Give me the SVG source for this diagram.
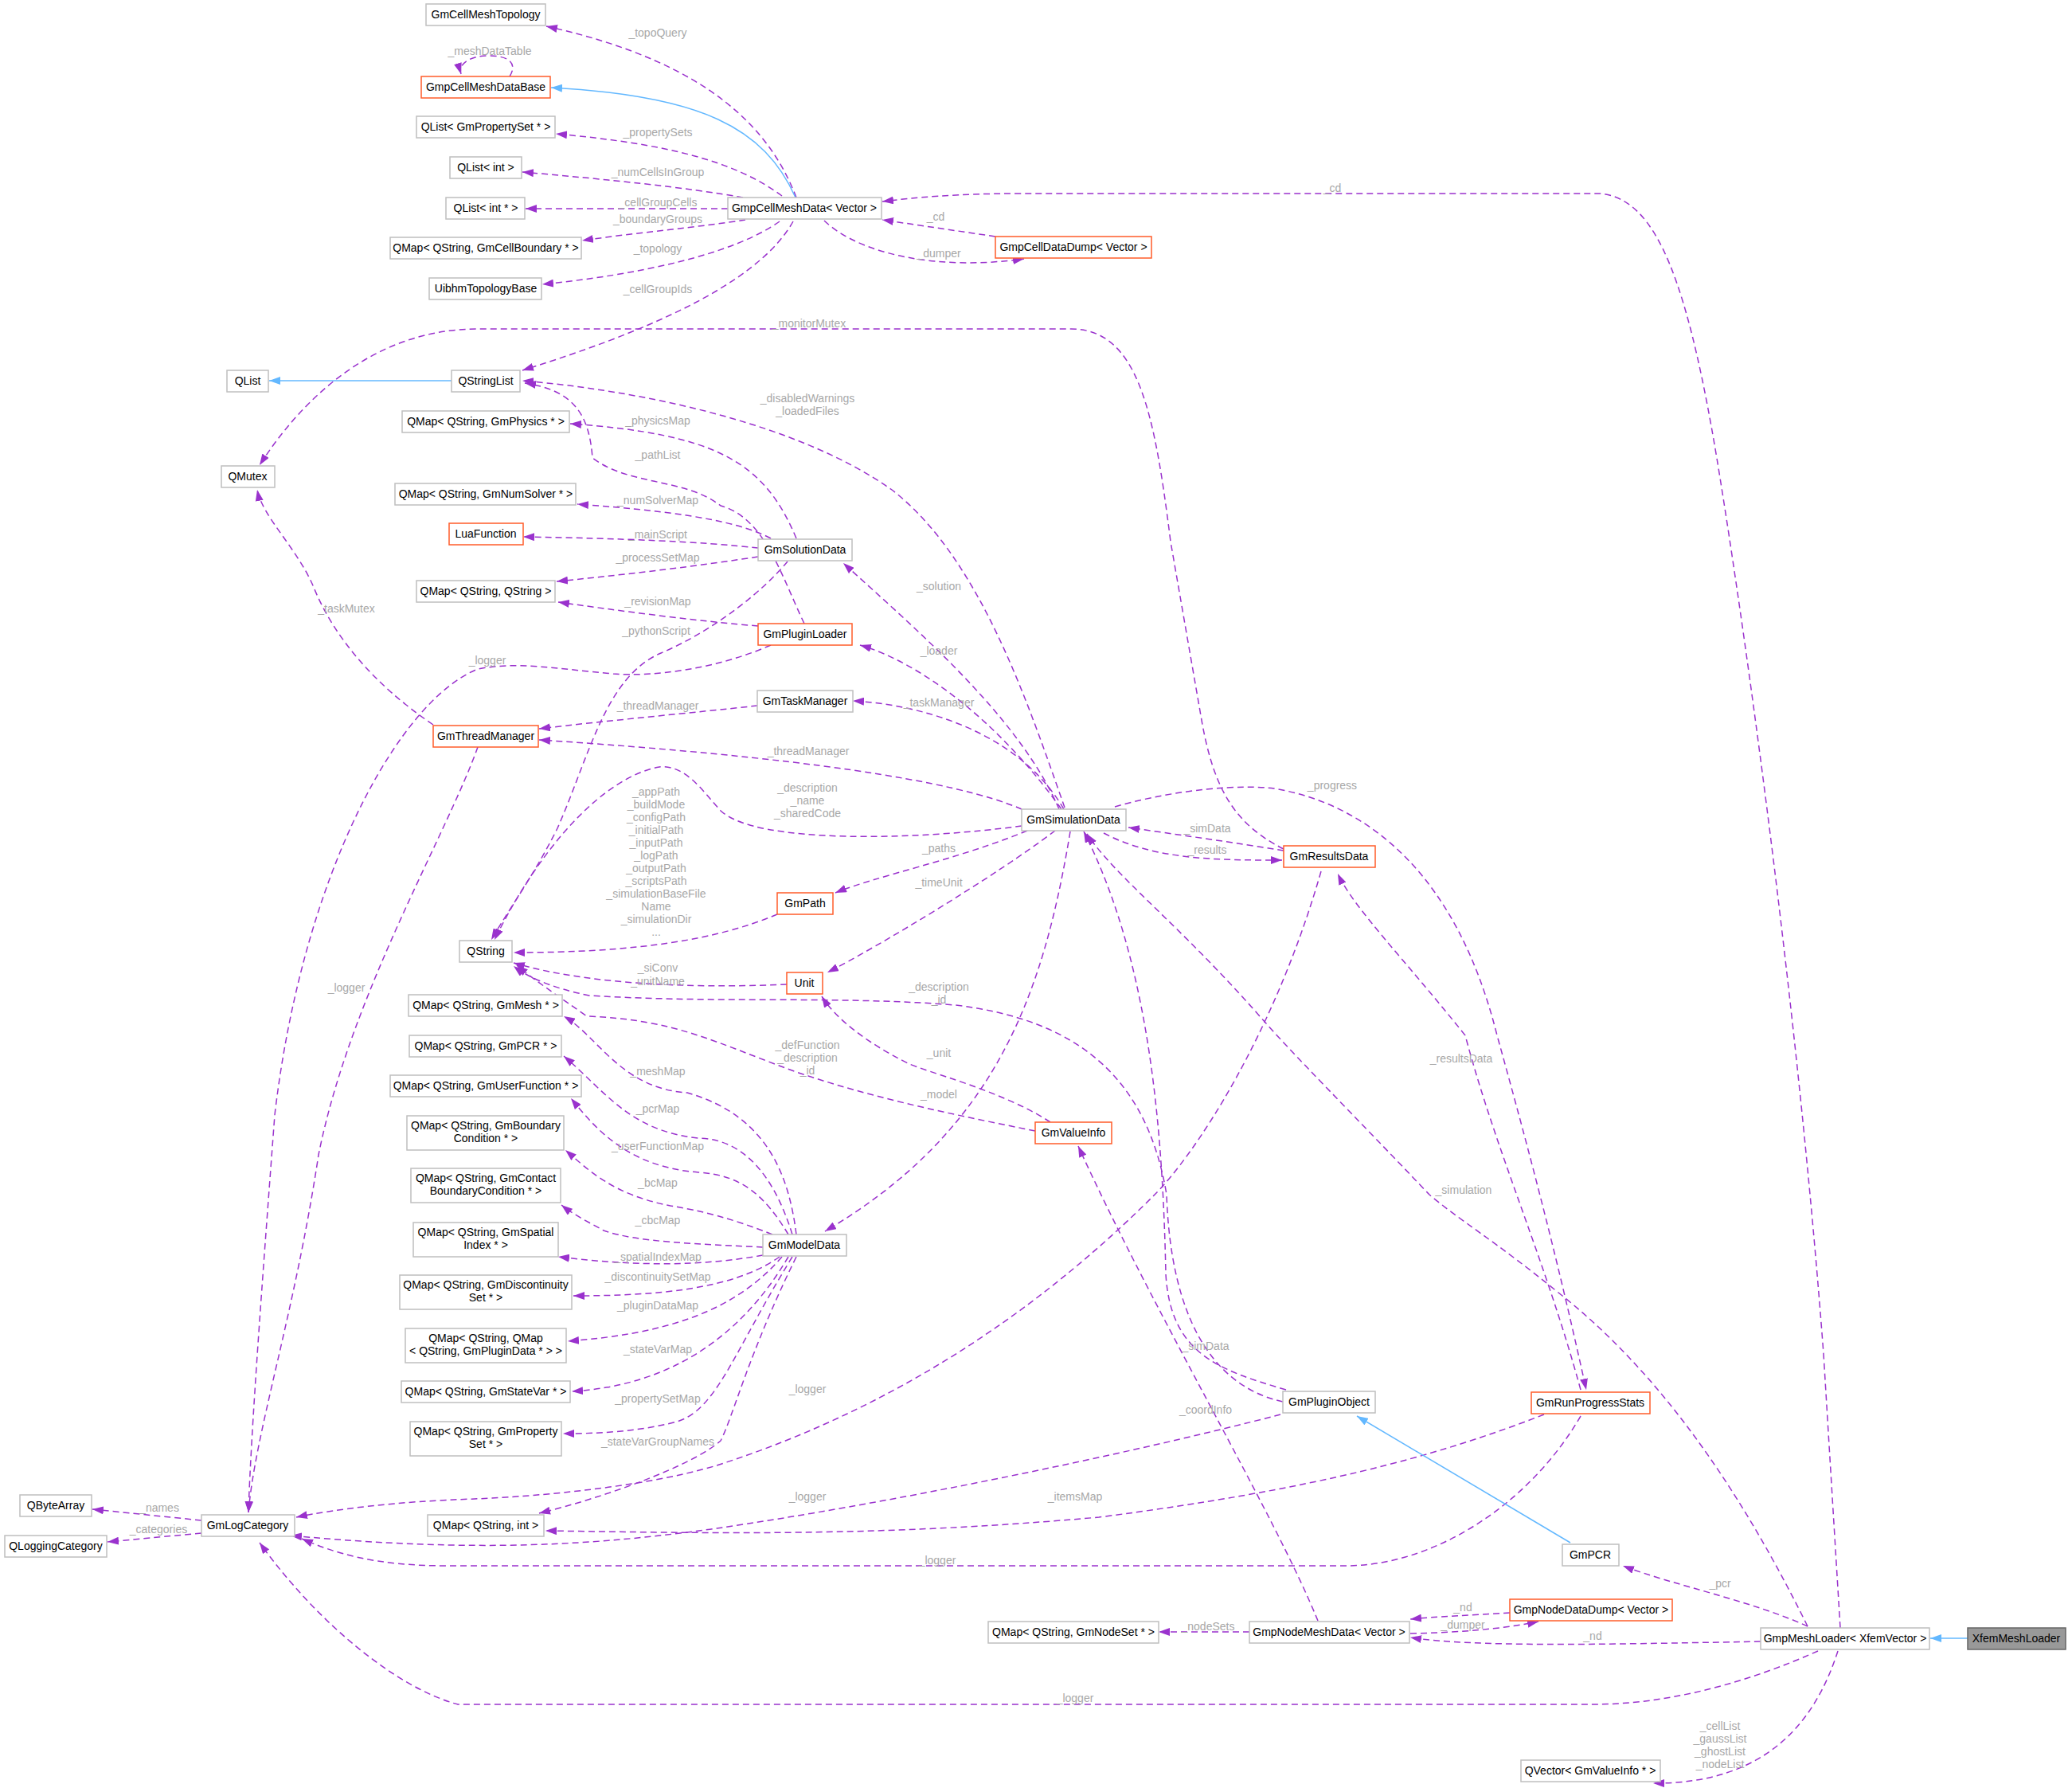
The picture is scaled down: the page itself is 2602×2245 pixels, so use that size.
<svg xmlns="http://www.w3.org/2000/svg" width="2602" height="2245" viewBox="0 0 2602 2245">
<style>
.n rect{fill:#fff;stroke:#bfbfbf;stroke-width:1.5}
.n.r rect{stroke:#ff5c2a}
.n.x rect{fill:#999;stroke:#666}
.n text,.l{font-family:"Liberation Sans",Arial,sans-serif;font-size:14px}
.n text{fill:#000;text-anchor:middle}
.l{fill:#a8a8a8;text-anchor:middle}
.e path{fill:none;stroke:#9a32cd;stroke-width:1.5;stroke-dasharray:8,5;marker-end:url(#a)}
.e path.i{stroke:#63b8ff;stroke-dasharray:none;marker-end:url(#b)}
</style>
<defs>
<marker id="a" viewBox="0 0 14 10" refX="14" refY="5" markerWidth="14" markerHeight="10" markerUnits="userSpaceOnUse" orient="auto"><path d="M0,0L14,5L0,10z" fill="#9a32cd"/></marker>
<marker id="b" viewBox="0 0 14 10" refX="14" refY="5" markerWidth="14" markerHeight="10" markerUnits="userSpaceOnUse" orient="auto"><path d="M0,0L14,5L0,10z" fill="#63b8ff"/></marker>
</defs>
<rect width="2602" height="2245" fill="#fff"/>
<g class="e">
<path d="M1000,248 C970,170 900,80 686,33"/>
<path class="i" d="M999,248 C960,160 880,120 692,110"/>
<path d="M982,246 C920,200 830,180 698,168"/>
<path d="M933,248 C860,235 760,225 656,216"/>
<path d="M914,262 L660,262"/>
<path d="M936,276 C880,285 800,292 731,302"/>
<path d="M979,278 C920,320 800,345 681,357"/>
<path d="M996,278 C950,360 800,420 656,465"/>
<path d="M1035,277 C1080,320 1180,340 1286,325"/>
<path d="M1250,297 L1108,276"/>
<path d="M2311,2044 L2290,1700 C2260,1300 2200,850 2160,600 C2120,350 2080,250 2010,243 L1280,243 C1200,243 1150,248 1108,253"/>
<path class="i" d="M567,478 L338,478"/>
<path d="M1612,1066 C1550,1035 1525,990 1510,910 L1470,680 C1450,520 1430,413 1345,413 L600,413 C470,413 380,500 326,584"/>
<path d="M1337,1014 C1290,880 1230,700 1120,615 C1000,530 800,490 656,478"/>
<path d="M1010,783 C980,720 960,650 905,635 C860,600 790,610 744,575 C740,520 720,490 659,481"/>
<path d="M1000,676 C960,580 900,545 716,532"/>
<path d="M968,676 C920,650 820,640 725,633"/>
<path d="M952,688 C880,680 780,676 657,674"/>
<path d="M952,699 C880,710 800,720 699,730"/>
<path d="M989,705 C960,740 900,790 830,820 C760,850 740,950 700,1040 C670,1100 640,1140 617,1180"/>
<path d="M1330,1016 C1280,900 1150,790 1059,707"/>
<path d="M952,786 C880,780 800,770 701,756"/>
<path d="M968,810 C900,840 820,850 770,846 C700,840 650,830 600,840 C500,880 380,1100 345,1400 C330,1600 315,1800 312,1899"/>
<path d="M1333,1016 C1250,900 1150,830 1080,810"/>
<path d="M951,886 C870,895 760,905 677,915"/>
<path d="M1336,1016 C1280,920 1160,885 1071,880"/>
<path d="M1283,1016 C1200,980 1000,950 677,929"/>
<path d="M544,910 C470,860 420,800 395,740 C375,690 330,650 323,615"/>
<path d="M600,938 C560,1050 440,1250 400,1450 C370,1650 320,1800 312,1899"/>
<path d="M1283,1037 C1150,1055 950,1060 905,1018 C880,990 860,960 828,963 C760,975 680,1060 621,1180"/>
<path d="M976,1148 C900,1180 800,1196 645,1196"/>
<path d="M1290,1043 C1200,1080 1100,1100 1049,1121"/>
<path d="M1325,1043 C1250,1100 1100,1190 1039,1221"/>
<path d="M988,1236 C900,1240 750,1240 645,1209"/>
<path d="M1300,1420 C1200,1400 1100,1380 1000,1346 C900,1310 850,1280 737,1276 C700,1250 670,1230 649,1212"/>
<path d="M1611,1760 C1520,1740 1470,1650 1465,1500 C1440,1350 1350,1280 1200,1262 C1050,1250 900,1260 740,1250 C690,1240 660,1225 645,1213"/>
<path d="M1615,1745 C1530,1720 1470,1700 1464,1600 C1460,1400 1440,1200 1361,1044"/>
<path d="M1344,1044 C1310,1250 1250,1420 1036,1546"/>
<path d="M1319,1409 C1260,1370 1160,1345 1140,1335 C1090,1310 1050,1280 1032,1251"/>
<path d="M1655,2035 C1600,1900 1450,1650 1354,1439"/>
<path d="M1612,1068 C1550,1058 1480,1048 1417,1039"/>
<path d="M1386,1046 C1450,1080 1530,1080 1610,1080"/>
<path d="M1400,1013 C1480,990 1560,985 1600,990 C1720,1010 1830,1100 1880,1300 C1930,1480 1960,1600 1992,1745"/>
<path d="M1985,1745 C1940,1580 1880,1450 1840,1300 C1760,1200 1700,1140 1680,1097"/>
<path d="M2270,2042 C2180,1860 2080,1720 1957,1623 C1880,1560 1830,1530 1795,1500 C1700,1400 1620,1320 1582,1276 C1480,1160 1400,1100 1365,1047"/>
<path d="M1659,1094 C1600,1300 1500,1450 1450,1500 C1330,1620 1150,1760 900,1840 C800,1870 650,1880 596,1882 C500,1885 420,1895 372,1905"/>
<path d="M1000,1550 C990,1470 960,1400 863,1372 C780,1367 750,1300 708,1276"/>
<path d="M995,1550 C970,1470 930,1430 877,1429 C790,1420 760,1370 708,1326"/>
<path d="M990,1550 C960,1500 930,1475 877,1472 C790,1465 750,1420 717,1379"/>
<path d="M970,1550 C920,1530 880,1520 842,1514 C770,1500 740,1470 710,1444"/>
<path d="M958,1566 C880,1562 800,1560 758,1545 C740,1535 720,1525 705,1513"/>
<path d="M958,1576 C880,1590 800,1590 701,1578"/>
<path d="M979,1578 C920,1620 820,1627 720,1627"/>
<path d="M982,1578 C920,1650 830,1675 713,1684"/>
<path d="M990,1578 C930,1680 840,1740 718,1747"/>
<path d="M995,1578 C920,1700 900,1770 850,1785 C800,1798 750,1800 707,1800"/>
<path d="M1000,1578 C940,1700 920,1780 905,1809 C870,1840 760,1880 677,1900"/>
<path d="M1939,1776 C1800,1830 1650,1870 1380,1905 C1100,1930 900,1925 685,1922"/>
<path d="M1608,1776 C1400,1830 1100,1890 900,1919 C750,1940 600,1950 365,1928"/>
<path d="M1985,1778 C1920,1890 1800,1966 1690,1966 L561,1966 C470,1966 420,1950 379,1932"/>
<path class="i" d="M1972,1937 L1704,1778"/>
<path class="i" d="M2471,2057 L2424,2057"/>
<path d="M2270,2042 C2200,2010 2100,1990 2038,1966"/>
<path d="M2211,2061 C2000,2065 1850,2068 1771,2056"/>
<path d="M2283,2073 C2200,2110 2100,2140 2000,2140 L575,2140 C500,2120 400,2040 326,1937"/>
<path d="M2308,2073 C2280,2160 2220,2240 2076,2239"/>
<path d="M1569,2049 L1455,2049"/>
<path d="M1771,2051 C1830,2050 1890,2045 1932,2036"/>
<path d="M1896,2025 C1850,2028 1800,2030 1771,2033"/>
<path d="M640,96 C650,80 640,70 614,70 C590,70 575,80 579,93"/>
<path d="M253,1909 L116,1895"/>
<path d="M253,1925 L135,1936"/>
</g>
<g id="labels">
<text class="l" x="826" y="46">_topoQuery</text>
<text class="l" x="615" y="69">_meshDataTable</text>
<text class="l" x="826" y="171">_propertySets</text>
<text class="l" x="826" y="221">_numCellsInGroup</text>
<text class="l" x="826" y="259">_cellGroupCells</text>
<text class="l" x="826" y="280">_boundaryGroups</text>
<text class="l" x="826" y="317">_topology</text>
<text class="l" x="826" y="368">_cellGroupIds</text>
<text class="l" x="1175" y="277">_cd</text>
<text class="l" x="1179" y="323">_dumper</text>
<text class="l" x="1673" y="241">_cd</text>
<text class="l" x="1016" y="411">_monitorMutex</text>
<text class="l" x="1014" y="505">_disabledWarnings</text>
<text class="l" x="1014" y="521">_loadedFiles</text>
<text class="l" x="826" y="533">_physicsMap</text>
<text class="l" x="826" y="576">_pathList</text>
<text class="l" x="826" y="633">_numSolverMap</text>
<text class="l" x="826" y="676">_mainScript</text>
<text class="l" x="826" y="705">_processSetMap</text>
<text class="l" x="1179" y="741">_solution</text>
<text class="l" x="826" y="760">_revisionMap</text>
<text class="l" x="435" y="769">_taskMutex</text>
<text class="l" x="824" y="797">_pythonScript</text>
<text class="l" x="1179" y="822">_loader</text>
<text class="l" x="612" y="834">_logger</text>
<text class="l" x="826" y="891">_threadManager</text>
<text class="l" x="1179" y="887">_taskManager</text>
<text class="l" x="1015" y="948">_threadManager</text>
<text class="l" x="1014" y="994">_description</text>
<text class="l" x="1014" y="1010">_name</text>
<text class="l" x="1014" y="1026">_sharedCode</text>
<text class="l" x="1673" y="991">_progress</text>
<text class="l" x="824" y="999">_appPath</text>
<text class="l" x="824" y="1015">_buildMode</text>
<text class="l" x="824" y="1031">_configPath</text>
<text class="l" x="824" y="1047">_initialPath</text>
<text class="l" x="824" y="1063">_inputPath</text>
<text class="l" x="824" y="1079">_logPath</text>
<text class="l" x="824" y="1095">_outputPath</text>
<text class="l" x="824" y="1111">_scriptsPath</text>
<text class="l" x="824" y="1127">_simulationBaseFile</text>
<text class="l" x="824" y="1143">Name</text>
<text class="l" x="824" y="1159">_simulationDir</text>
<text class="l" x="824" y="1175">...</text>
<text class="l" x="1516" y="1045">_simData</text>
<text class="l" x="1516" y="1072">_results</text>
<text class="l" x="1179" y="1070">_paths</text>
<text class="l" x="1179" y="1113">_timeUnit</text>
<text class="l" x="826" y="1220">_siConv</text>
<text class="l" x="826" y="1237">_unitName</text>
<text class="l" x="1179" y="1244">_description</text>
<text class="l" x="1179" y="1260">_id</text>
<text class="l" x="435" y="1245">_logger</text>
<text class="l" x="1014" y="1317">_defFunction</text>
<text class="l" x="1014" y="1333">_description</text>
<text class="l" x="1014" y="1349">_id</text>
<text class="l" x="1179" y="1327">_unit</text>
<text class="l" x="1835" y="1334">_resultsData</text>
<text class="l" x="826" y="1350">_meshMap</text>
<text class="l" x="1179" y="1379">_model</text>
<text class="l" x="826" y="1397">_pcrMap</text>
<text class="l" x="826" y="1444">_userFunctionMap</text>
<text class="l" x="826" y="1490">_bcMap</text>
<text class="l" x="1838" y="1499">_simulation</text>
<text class="l" x="826" y="1537">_cbcMap</text>
<text class="l" x="826" y="1583">_spatialIndexMap</text>
<text class="l" x="826" y="1608">_discontinuitySetMap</text>
<text class="l" x="826" y="1644">_pluginDataMap</text>
<text class="l" x="826" y="1699">_stateVarMap</text>
<text class="l" x="1514" y="1695">_simData</text>
<text class="l" x="1014" y="1749">_logger</text>
<text class="l" x="1514" y="1775">_coordInfo</text>
<text class="l" x="826" y="1761">_propertySetMap</text>
<text class="l" x="826" y="1815">_stateVarGroupNames</text>
<text class="l" x="1014" y="1884">_logger</text>
<text class="l" x="1350" y="1884">_itemsMap</text>
<text class="l" x="200" y="1898">_names</text>
<text class="l" x="199" y="1925">_categories</text>
<text class="l" x="1177" y="1964">_logger</text>
<text class="l" x="2160" y="1993">_pcr</text>
<text class="l" x="1837" y="2023">_nd</text>
<text class="l" x="1837" y="2045">_dumper</text>
<text class="l" x="1517" y="2047">_nodeSets</text>
<text class="l" x="2000" y="2059">_nd</text>
<text class="l" x="1350" y="2137">_logger</text>
<text class="l" x="2160" y="2172">_cellList</text>
<text class="l" x="2160" y="2188">_gaussList</text>
<text class="l" x="2160" y="2204">_ghostList</text>
<text class="l" x="2160" y="2220">_nodeList</text>
</g>
<g id="GmCellMeshTopology" class="n"><rect x="535" y="5" width="150" height="27"/><text x="610" y="23">GmCellMeshTopology</text></g>
<g id="GmpCellMeshDataBase" class="n r"><rect x="529" y="96" width="162" height="27"/><text x="610" y="114">GmpCellMeshDataBase</text></g>
<g id="QListPropertySet" class="n"><rect x="523" y="146" width="174" height="27"/><text x="610" y="164">QList&lt; GmPropertySet * &gt;</text></g>
<g id="QListInt" class="n"><rect x="565" y="197" width="90" height="27"/><text x="610" y="215">QList&lt; int &gt;</text></g>
<g id="QListIntPtr" class="n"><rect x="560" y="248" width="99" height="27"/><text x="610" y="266">QList&lt; int * &gt;</text></g>
<g id="QMapCellBoundary" class="n"><rect x="490" y="298" width="240" height="27"/><text x="610" y="316">QMap&lt; QString, GmCellBoundary * &gt;</text></g>
<g id="UibhmTopologyBase" class="n"><rect x="539" y="349" width="141" height="27"/><text x="610" y="367">UibhmTopologyBase</text></g>
<g id="GmpCellMeshData" class="n"><rect x="914" y="248" width="193" height="27"/><text x="1010" y="266">GmpCellMeshData&lt; Vector &gt;</text></g>
<g id="GmpCellDataDump" class="n r"><rect x="1250" y="297" width="196" height="27"/><text x="1348" y="315">GmpCellDataDump&lt; Vector &gt;</text></g>
<g id="QList" class="n"><rect x="285" y="465" width="52" height="27"/><text x="311" y="483">QList</text></g>
<g id="QStringList" class="n"><rect x="567" y="465" width="86" height="27"/><text x="610" y="483">QStringList</text></g>
<g id="QMapPhysics" class="n"><rect x="505" y="516" width="210" height="27"/><text x="610" y="534">QMap&lt; QString, GmPhysics * &gt;</text></g>
<g id="QMutex" class="n"><rect x="278" y="585" width="67" height="27"/><text x="311" y="603">QMutex</text></g>
<g id="QMapNumSolver" class="n"><rect x="496" y="607" width="227" height="27"/><text x="610" y="625">QMap&lt; QString, GmNumSolver * &gt;</text></g>
<g id="LuaFunction" class="n r"><rect x="564" y="657" width="93" height="27"/><text x="610" y="675">LuaFunction</text></g>
<g id="GmSolutionData" class="n"><rect x="952" y="677" width="118" height="27"/><text x="1011" y="695">GmSolutionData</text></g>
<g id="QMapQStringQString" class="n"><rect x="523" y="729" width="174" height="27"/><text x="610" y="747">QMap&lt; QString, QString &gt;</text></g>
<g id="GmPluginLoader" class="n r"><rect x="952" y="783" width="118" height="27"/><text x="1011" y="801">GmPluginLoader</text></g>
<g id="GmTaskManager" class="n"><rect x="951" y="867" width="120" height="27"/><text x="1011" y="885">GmTaskManager</text></g>
<g id="GmThreadManager" class="n r"><rect x="544" y="911" width="132" height="27"/><text x="610" y="929">GmThreadManager</text></g>
<g id="GmSimulationData" class="n"><rect x="1283" y="1016" width="131" height="27"/><text x="1348" y="1034">GmSimulationData</text></g>
<g id="GmResultsData" class="n r"><rect x="1612" y="1062" width="115" height="27"/><text x="1669" y="1080">GmResultsData</text></g>
<g id="GmPath" class="n r"><rect x="976" y="1121" width="70" height="27"/><text x="1011" y="1139">GmPath</text></g>
<g id="QString" class="n"><rect x="577" y="1181" width="66" height="27"/><text x="610" y="1199">QString</text></g>
<g id="Unit" class="n r"><rect x="988" y="1221" width="45" height="27"/><text x="1010" y="1239">Unit</text></g>
<g id="QMapMesh" class="n"><rect x="513" y="1249" width="193" height="27"/><text x="610" y="1267">QMap&lt; QString, GmMesh * &gt;</text></g>
<g id="QMapPCR" class="n"><rect x="514" y="1300" width="191" height="27"/><text x="610" y="1318">QMap&lt; QString, GmPCR * &gt;</text></g>
<g id="QMapUserFunction" class="n"><rect x="490" y="1350" width="240" height="27"/><text x="610" y="1368">QMap&lt; QString, GmUserFunction * &gt;</text></g>
<g id="QMapBoundary" class="n"><rect x="511" y="1401" width="197" height="43"/><text x="610" y="1418">QMap&lt; QString, GmBoundary</text><text x="610" y="1434">Condition * &gt;</text></g>
<g id="QMapContact" class="n"><rect x="516" y="1467" width="188" height="43"/><text x="610" y="1484">QMap&lt; QString, GmContact</text><text x="610" y="1500">BoundaryCondition * &gt;</text></g>
<g id="QMapSpatial" class="n"><rect x="519" y="1535" width="182" height="43"/><text x="610" y="1552">QMap&lt; QString, GmSpatial</text><text x="610" y="1568">Index * &gt;</text></g>
<g id="GmModelData" class="n"><rect x="958" y="1550" width="105" height="27"/><text x="1010" y="1568">GmModelData</text></g>
<g id="QMapDiscontinuity" class="n"><rect x="502" y="1601" width="216" height="43"/><text x="610" y="1618">QMap&lt; QString, GmDiscontinuity</text><text x="610" y="1634">Set * &gt;</text></g>
<g id="QMapPluginData" class="n"><rect x="509" y="1668" width="202" height="43"/><text x="610" y="1685">QMap&lt; QString, QMap</text><text x="610" y="1701">&lt; QString, GmPluginData * &gt; &gt;</text></g>
<g id="QMapStateVar" class="n"><rect x="504" y="1734" width="212" height="27"/><text x="610" y="1752">QMap&lt; QString, GmStateVar * &gt;</text></g>
<g id="QMapProperty" class="n"><rect x="515" y="1785" width="190" height="43"/><text x="610" y="1802">QMap&lt; QString, GmProperty</text><text x="610" y="1818">Set * &gt;</text></g>
<g id="GmValueInfo" class="n r"><rect x="1300" y="1409" width="96" height="27"/><text x="1348" y="1427">GmValueInfo</text></g>
<g id="GmPluginObject" class="n"><rect x="1611" y="1747" width="116" height="27"/><text x="1669" y="1765">GmPluginObject</text></g>
<g id="GmRunProgressStats" class="n r"><rect x="1923" y="1748" width="149" height="27"/><text x="1997" y="1766">GmRunProgressStats</text></g>
<g id="QByteArray" class="n"><rect x="25" y="1877" width="90" height="27"/><text x="70" y="1895">QByteArray</text></g>
<g id="GmLogCategory" class="n"><rect x="253" y="1902" width="117" height="27"/><text x="311" y="1920">GmLogCategory</text></g>
<g id="QMapInt" class="n"><rect x="537" y="1902" width="146" height="27"/><text x="610" y="1920">QMap&lt; QString, int &gt;</text></g>
<g id="QLoggingCategory" class="n"><rect x="6" y="1928" width="128" height="27"/><text x="70" y="1946">QLoggingCategory</text></g>
<g id="GmPCR" class="n"><rect x="1962" y="1939" width="71" height="27"/><text x="1997" y="1957">GmPCR</text></g>
<g id="GmpNodeDataDump" class="n r"><rect x="1896" y="2008" width="204" height="27"/><text x="1998" y="2026">GmpNodeDataDump&lt; Vector &gt;</text></g>
<g id="QMapNodeSet" class="n"><rect x="1241" y="2036" width="214" height="27"/><text x="1348" y="2054">QMap&lt; QString, GmNodeSet * &gt;</text></g>
<g id="GmpNodeMeshData" class="n"><rect x="1569" y="2036" width="201" height="27"/><text x="1669" y="2054">GmpNodeMeshData&lt; Vector &gt;</text></g>
<g id="GmpMeshLoader" class="n"><rect x="2211" y="2044" width="212" height="27"/><text x="2317" y="2062">GmpMeshLoader&lt; XfemVector &gt;</text></g>
<g id="XfemMeshLoader" class="n x"><rect x="2471" y="2044" width="123" height="27"/><text x="2532" y="2062">XfemMeshLoader</text></g>
<g id="QVectorValueInfo" class="n"><rect x="1910" y="2210" width="175" height="27"/><text x="1997" y="2228">QVector&lt; GmValueInfo * &gt;</text></g>
</svg>
